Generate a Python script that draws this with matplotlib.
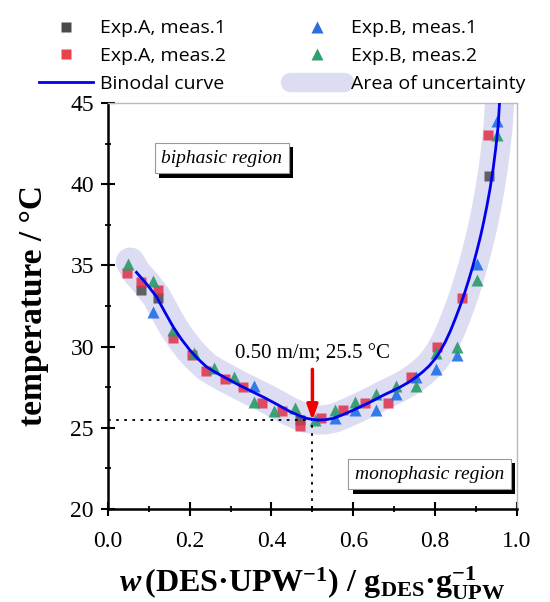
import matplotlib
matplotlib.use('Agg')
import matplotlib.pyplot as plt
import matplotlib.patheffects as pe
from matplotlib.lines import Line2D
from matplotlib.ticker import MultipleLocator

plt.rcParams['font.family'] = 'Liberation Serif'
plt.rcParams['mathtext.fontset'] = 'custom'
plt.rcParams['mathtext.rm'] = 'Liberation Serif:bold'
plt.rcParams['mathtext.bf'] = 'Liberation Serif:bold'
plt.rcParams['mathtext.it'] = 'Liberation Serif:bold:italic'

a1_w = [0.082, 0.123, 0.469, 0.932]
a1_T = [33.5, 33.0, 25.5, 40.5]
a2_w = [0.046, 0.082, 0.123, 0.16, 0.205, 0.241, 0.286, 0.331, 0.376, 0.425,
        0.469, 0.52, 0.574, 0.628, 0.685, 0.742, 0.804, 0.866, 0.93]
a2_T = [34.5, 34.0, 33.5, 30.5, 29.5, 28.5, 28.0, 27.5, 26.5, 26.05,
        25.1, 25.6, 26.1, 26.55, 26.55, 28.15, 30.0, 33.0, 43.0]
b1_w = [0.111, 0.357, 0.555, 0.604, 0.655, 0.704, 0.753, 0.802, 0.853, 0.903, 0.95]
b1_T = [32.1, 27.6, 25.6, 26.1, 26.1, 27.1, 28.15, 28.6, 29.5, 35.1, 43.9]
b2_w = [0.05, 0.111, 0.16, 0.21, 0.259, 0.308, 0.357, 0.406, 0.457, 0.506,
        0.555, 0.604, 0.655, 0.704, 0.753, 0.802, 0.853, 0.903, 0.952]
b2_T = [35.1, 34.05, 31.05, 29.6, 28.65, 28.15, 26.6, 26.05, 26.2, 25.5,
        26.1, 26.6, 27.1, 27.6, 27.6, 29.6, 30.0, 34.1, 43.0]

# Binodalkurve
curve_w = [0.07, 0.095, 0.119, 0.14, 0.16, 0.18, 0.2, 0.22, 0.241, 0.262, 0.282,
           0.303, 0.323, 0.343, 0.363, 0.384, 0.404, 0.425, 0.445, 0.466, 0.486,
           0.51, 0.53, 0.551, 0.572, 0.592, 0.612, 0.632, 0.653, 0.673, 0.694,
           0.714, 0.735, 0.755, 0.77, 0.785, 0.80, 0.812, 0.825, 0.837, 0.849,
           0.861, 0.872, 0.882, 0.892, 0.901, 0.910, 0.918, 0.926, 0.934, 0.942,
           0.948, 0.954, 0.960]
curve_T = [34.57, 33.85, 33.07, 32.1, 31.2, 30.45, 29.8, 29.25, 28.76, 28.43, 28.15,
           27.87, 27.6, 27.35, 27.1, 26.84, 26.57, 26.28, 26.0, 25.77, 25.58,
           25.48, 25.49, 25.58, 25.78, 26.0, 26.23, 26.47, 26.73, 27.0, 27.25,
           27.5, 27.8, 28.15, 28.45, 28.8, 29.25, 29.7, 30.3, 30.95, 31.7,
           32.5, 33.3, 34.1, 34.95, 35.8, 36.7, 37.6, 38.6, 39.7, 41.0,
           42.2, 43.6, 46.2]
band_w = [0.055] + curve_w
band_T = [35.2] + curve_T

min_w, min_T = 0.50, 25.45

fig = plt.figure(figsize=(5.5, 6.02), dpi=100)
ax = fig.add_axes([0.196, 0.1545, 0.744, 0.6745])

ax.plot(band_w, band_T, color='#dcdcf2', lw=21, solid_capstyle='round',
        solid_joinstyle='round', zorder=1)
ms = 7.5
ax.plot(a1_w, a1_T, 's', color='#4a4a4a', ms=ms, alpha=0.85, mec='none', zorder=2)
ax.plot(a2_w, a2_T, 's', color='#e0304a', ms=ms, alpha=0.85, mec='none', zorder=2)
ax.plot(b1_w, b1_T, '^', color='#1f6fe8', ms=ms + 1, alpha=0.9, mec='none', zorder=2)
ax.plot(b2_w, b2_T, '^', color='#2a9a6a', ms=ms + 1, alpha=0.9, mec='none', zorder=2)
ax.plot(curve_w, curve_T, color='#0000ee', lw=2, zorder=3)

# Minimum markieren
ax.plot([0, min_w], [min_T, min_T], ls=(0, (1.5, 3)), color='k', lw=1.3, zorder=3)
ax.plot([min_w, min_w], [20, min_T], ls=(0, (1.5, 3)), color='k', lw=1.3, zorder=3)
ax.annotate('', xy=(min_w, min_T), xytext=(min_w, 28.6),
            arrowprops=dict(arrowstyle='-|>,head_width=0.32,head_length=0.9',
                            color='#ee0000', lw=2.5, shrinkA=0, shrinkB=0), zorder=4)
ax.text(min_w, 29.0, '0.50 m/m; 25.5 °C', ha='center', va='bottom', fontsize=15)

for txt, x, y in [('biphasic region', 0.279, 41.6), ('monophasic region', 0.787, 22.15)]:
    t = ax.text(x, y, txt, ha='center', va='center', fontsize=14, style='italic',
                bbox=dict(boxstyle='square,pad=0.35', fc='white', ec='#999999', lw=0.8), zorder=5)
    t.get_bbox_patch().set_path_effects([
        pe.SimplePatchShadow(offset=(3, -3), shadow_rgbFace='k', alpha=1), pe.Normal()])

ax.set_xlim(0, 1)
ax.set_ylim(20, 45)
ax.xaxis.set_major_locator(MultipleLocator(0.2))
ax.xaxis.set_minor_locator(MultipleLocator(0.1))
ax.yaxis.set_major_locator(MultipleLocator(5))
ax.yaxis.set_minor_locator(MultipleLocator(2.5))
ax.tick_params(which='major', direction='inout', length=10, width=1.5, labelsize=17)
ax.tick_params(axis='x', which='major', pad=11)
ax.tick_params(axis='y', which='major', pad=5)
ax.tick_params(which='minor', direction='inout', length=5, width=1.3)
ax.set_xticks([0, 0.2, 0.4, 0.6, 0.8, 1.0])
ax.set_xticklabels(['0.0', '0.2', '0.4', '0.6', '0.8', '1.0'])
for lab in ax.get_xticklabels() + ax.get_yticklabels():
    lab.set_fontfamily('Liberation Serif')
for s in ['left', 'bottom']:
    ax.spines[s].set_linewidth(1.8)
for s in ['top', 'right']:
    ax.spines[s].set_color('#bbbbbb')
    ax.spines[s].set_linewidth(1.0)

ax.set_ylabel('temperature / °C', fontsize=24, fontweight='bold', labelpad=15)
ax.set_xlabel(r'$\mathit{w}\,\mathrm{(DES·UPW^{-1})\ /\ g_{DES}·g_{UPW}^{-1}}$',
              fontsize=23, labelpad=9)

handles = [
    Line2D([], [], ls='none', marker='s', color='#4a4a4a', ms=7, mec='none'),
    Line2D([], [], ls='none', marker='s', color='#e8424a', ms=7, mec='none'),
    Line2D([], [], color='#0000ee', lw=2),
    Line2D([], [], ls='none', marker='^', color='#2a6fdb', ms=8, mec='none'),
    Line2D([], [], ls='none', marker='^', color='#30a070', ms=8, mec='none'),
    Line2D([], [], color='#dcdcf2', lw=14, solid_capstyle='round'),
]
labels = ['Exp.A, meas.1', 'Exp.A, meas.2', 'Binodal curve',
          'Exp.B, meas.1', 'Exp.B, meas.2', 'Area of uncertainty']
fig.legend(handles, labels, ncol=2, loc='upper center', bbox_to_anchor=(0.513, 0.997),
           frameon=False, prop={'family': 'Open Sans', 'size': 14},
           handlelength=2.8, columnspacing=3.3, labelspacing=0.5, handletextpad=0.35)

fig.savefig('out.png', dpi=100)
